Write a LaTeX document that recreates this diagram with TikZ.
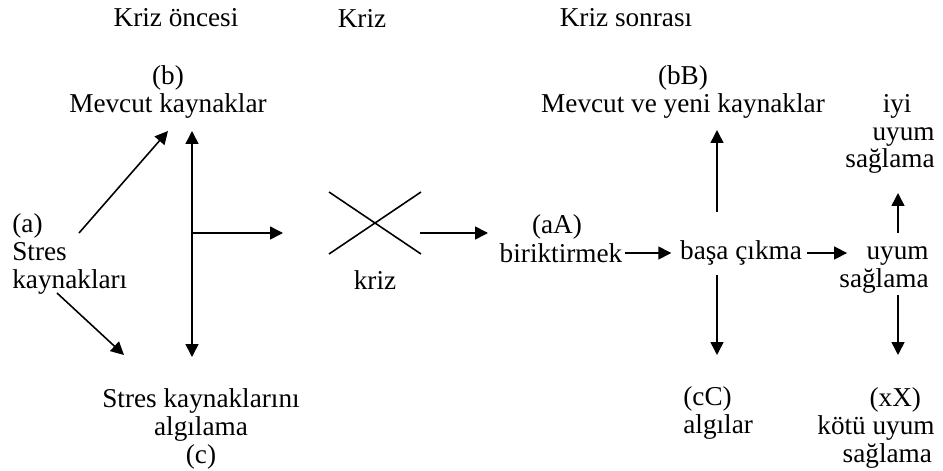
\documentclass[tikz,border=0pt]{standalone}
\usepackage{fontspec}
\setmainfont{Liberation Serif}
\usetikzlibrary{arrows.meta}

\begin{document}
\begin{tikzpicture}[
  x=0.02cm, y=-0.02cm,
  font=\fontsize{15.5}{15.8}\selectfont,
  lbl/.style={inner sep=0pt, align=center},
  link/.style={-{Triangle[length=0.26cm, width=0.26cm]}, line width=0.9pt},
  both/.style={{Triangle[length=0.26cm, width=0.26cm]}-{Triangle[length=0.26cm, width=0.26cm]}, line width=0.9pt},
  cross/.style={line width=0.9pt}
]
  \useasboundingbox (0,0) rectangle (943,470);

  % phase headings
  \node[lbl] (pre)  at (176,18) {Kriz öncesi};
  \node[lbl] (mid)  at (362,18) {Kriz};
  \node[lbl] (post) at (626,18) {Kriz sonrası};

  % before the crisis
  \node[lbl] (b) at (168,92) {(b)\\Mevcut kaynaklar};
  \node[lbl, align=left, anchor=west] (a) at (12,254) {(a)\\Stres\\kaynakları};
  \node[lbl] (c) at (201,429) {Stres kaynaklarını\\algılama\\(c)};

  \coordinate (aup)  at (79,233);
  \coordinate (bdl)  at (168,131);
  \coordinate (adn)  at (57,293);
  \coordinate (cul)  at (124,355);
  \coordinate (vtop) at (192,131);
  \coordinate (vbot) at (192,357);
  \coordinate (vmid) at (192,233);
  \coordinate (xin)  at (283,233);

  \draw[link] (aup) -- (bdl);
  \draw[link] (adn) -- (cul);
  \draw[both] (vtop) -- (vbot);
  \draw[link] (vmid) -- (xin);

  % crisis
  \coordinate (xnw) at (329,192);
  \coordinate (xse) at (421,254);
  \coordinate (xsw) at (329,254);
  \coordinate (xne) at (421,192);
  \draw[cross] (xnw) -- (xse);
  \draw[cross] (xsw) -- (xne);
  \node[lbl] (kriz) at (375,280) {kriz};

  \coordinate (xout) at (420,233);
  \coordinate (aAin) at (488,233);
  \draw[link] (xout) -- (aAin);

  % after the crisis
  \node[lbl] (aA)    at (557,227) {(aA)};
  \node[lbl] (birik) at (561,253) {biriktirmek};
  \node[lbl] (basa)  at (741,253) {başa çıkma};
  \node[lbl, align=right, anchor=east] (uyum) at (929,270) {uyum\\sağlama};
  \node[lbl] (bB)    at (683,92) {(bB)\\Mevcut ve yeni kaynaklar};
  \node[lbl, align=right, anchor=east] (iyi) at (935,134)
        {iyi\hspace*{0.85em}\\uyum\\sağlama};
  \node[lbl, align=left, anchor=west] (cC) at (683,413) {(cC)\\algılar};
  \node[lbl, align=right, anchor=east] (xX) at (935,428)
        {(xX)\hspace*{0.5em}\\kötü uyum\\sağlama\hspace*{0.1em}};

  \draw[link, shorten <=0.04cm, shorten >=0.17cm] (birik.east) -- (basa.west);
  \draw[link, shorten <=0.1cm] (basa.east) -- ([xshift=0.16cm]basa.east -| uyum.west);

  \coordinate (bup)  at (717,212);
  \coordinate (bBdn) at (717,130);
  \coordinate (bdn)  at (717,275);
  \coordinate (cCup) at (717,355);
  \coordinate (uup)  at (898,233);
  \coordinate (iyin) at (898,193);
  \coordinate (udn)  at (898,295);
  \coordinate (xXup) at (898,355);

  \draw[link] (bup) -- (bBdn);
  \draw[link] (bdn) -- (cCup);
  \draw[link] (uup) -- (iyin);
  \draw[link] (udn) -- (xXup);
\end{tikzpicture}
\end{document}
